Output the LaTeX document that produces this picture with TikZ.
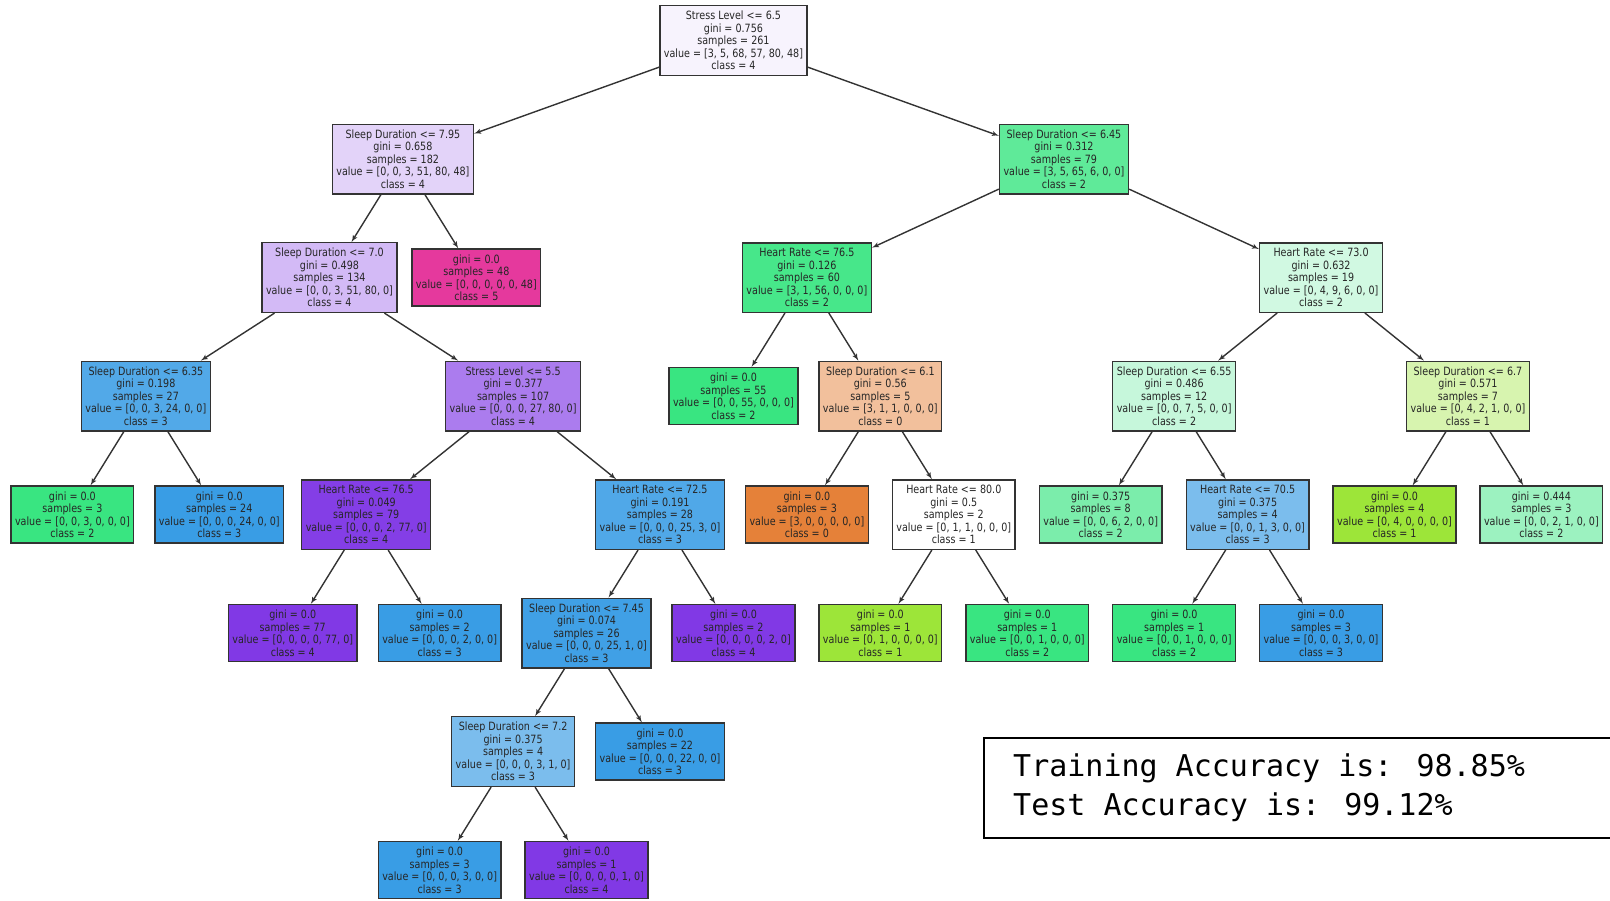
\documentclass[tikz,border=0pt]{standalone}
\usepackage{fontspec}
\usepackage{xcolor}
\usepackage{tikz}
\usetikzlibrary{arrows}
\newfontfamily\treefont{DejaVu Sans}[FakeStretch=0.84]
\newfontfamily\accfont{DejaVu Sans Mono}

% node fills (class colour faded by purity)
\definecolor{cRoot}{HTML}{F7F3FD}
\definecolor{cL}{HTML}{E3D3F9}
\definecolor{cLL}{HTML}{D3BAF6}
\definecolor{cLLL}{HTML}{52A9E8}
\definecolor{cLLR}{HTML}{AB7CEE}
\definecolor{cLLRL}{HTML}{843EE6}
\definecolor{cLLRR}{HTML}{50A8E8}
\definecolor{cLLRRL}{HTML}{40A0E6}
\definecolor{cPaleBlue}{HTML}{7BBDED}
\definecolor{cR}{HTML}{5FEA99}
\definecolor{cRL}{HTML}{47E78A}
\definecolor{cRLR}{HTML}{F2C09C}
\definecolor{cRR}{HTML}{D1F9E2}
\definecolor{cRRL}{HTML}{C6F7DB}
\definecolor{cRRLL}{HTML}{7BEDAB}
\definecolor{cRRR}{HTML}{D7F4AF}
\definecolor{cRRRR}{HTML}{9CF2C0}
\definecolor{cOrange}{HTML}{E58139}
\definecolor{cLime}{HTML}{9DE539}
\definecolor{cGreen}{HTML}{39E581}
\definecolor{cBlue}{HTML}{399DE5}
\definecolor{cPurple}{HTML}{8139E5}
\definecolor{cPink}{HTML}{E5399D}
\definecolor{edge}{HTML}{333333}

\begin{document}
\begin{tikzpicture}[x=73.45pt, y=-118.5pt,
  split/.style = {draw=edge, line width=1.4pt, align=center, text=black!85,
    font=\treefont\fontsize{11.4}{12.5}\selectfont, inner xsep=4pt, inner ysep=5.4pt},
  arr/.style = {-latex', line width=1.4pt, draw=edge}]
  \useasboundingbox (-72.4pt,40.6pt) rectangle (1537.6pt,-860.4pt);

  %level 0
  \node[split, fill=cRoot] (root) at (9,0) {Stress Level <= 6.5\\gini = 0.756\\samples = 261\\value = [3, 5, 68, 57, 80, 48]\\class = 4};

  %level 1
  \node[split, fill=cL] (l) at (4.5,1) {Sleep Duration <= 7.95\\gini = 0.658\\samples = 182\\value = [0, 0, 3, 51, 80, 48]\\class = 4};
  \node[split, fill=cR] (r) at (13.5,1) {Sleep Duration <= 6.45\\gini = 0.312\\samples = 79\\value = [3, 5, 65, 6, 0, 0]\\class = 2};

  %level 2
  \node[split, fill=cLL] (ll) at (3.5,2) {Sleep Duration <= 7.0\\gini = 0.498\\samples = 134\\value = [0, 0, 3, 51, 80, 0]\\class = 4};
  \node[split, fill=cPink] (lr) at (5.5,2) {gini = 0.0\\samples = 48\\value = [0, 0, 0, 0, 0, 48]\\class = 5};
  \node[split, fill=cRL] (rl) at (10,2) {Heart Rate <= 76.5\\gini = 0.126\\samples = 60\\value = [3, 1, 56, 0, 0, 0]\\class = 2};
  \node[split, fill=cRR] (rr) at (17,2) {Heart Rate <= 73.0\\gini = 0.632\\samples = 19\\value = [0, 4, 9, 6, 0, 0]\\class = 2};

  %level 3
  \node[split, fill=cLLL] (lll) at (1,3) {Sleep Duration <= 6.35\\gini = 0.198\\samples = 27\\value = [0, 0, 3, 24, 0, 0]\\class = 3};
  \node[split, fill=cLLR] (llr) at (6,3) {Stress Level <= 5.5\\gini = 0.377\\samples = 107\\value = [0, 0, 0, 27, 80, 0]\\class = 4};
  \node[split, fill=cGreen] (rll) at (9,3) {gini = 0.0\\samples = 55\\value = [0, 0, 55, 0, 0, 0]\\class = 2};
  \node[split, fill=cRLR] (rlr) at (11,3) {Sleep Duration <= 6.1\\gini = 0.56\\samples = 5\\value = [3, 1, 1, 0, 0, 0]\\class = 0};
  \node[split, fill=cRRL] (rrl) at (15,3) {Sleep Duration <= 6.55\\gini = 0.486\\samples = 12\\value = [0, 0, 7, 5, 0, 0]\\class = 2};
  \node[split, fill=cRRR] (rrr) at (19,3) {Sleep Duration <= 6.7\\gini = 0.571\\samples = 7\\value = [0, 4, 2, 1, 0, 0]\\class = 1};

  %level 4
  \node[split, fill=cGreen] (llll) at (0,4) {gini = 0.0\\samples = 3\\value = [0, 0, 3, 0, 0, 0]\\class = 2};
  \node[split, fill=cBlue] (lllr) at (2,4) {gini = 0.0\\samples = 24\\value = [0, 0, 0, 24, 0, 0]\\class = 3};
  \node[split, fill=cLLRL] (llrl) at (4,4) {Heart Rate <= 76.5\\gini = 0.049\\samples = 79\\value = [0, 0, 0, 2, 77, 0]\\class = 4};
  \node[split, fill=cLLRR] (llrr) at (8,4) {Heart Rate <= 72.5\\gini = 0.191\\samples = 28\\value = [0, 0, 0, 25, 3, 0]\\class = 3};
  \node[split, fill=cOrange] (rlrl) at (10,4) {gini = 0.0\\samples = 3\\value = [3, 0, 0, 0, 0, 0]\\class = 0};
  \node[split, fill=white] (rlrr) at (12,4) {Heart Rate <= 80.0\\gini = 0.5\\samples = 2\\value = [0, 1, 1, 0, 0, 0]\\class = 1};
  \node[split, fill=cRRLL] (rrll) at (14,4) {gini = 0.375\\samples = 8\\value = [0, 0, 6, 2, 0, 0]\\class = 2};
  \node[split, fill=cPaleBlue] (rrlr) at (16,4) {Heart Rate <= 70.5\\gini = 0.375\\samples = 4\\value = [0, 0, 1, 3, 0, 0]\\class = 3};
  \node[split, fill=cLime] (rrrl) at (18,4) {gini = 0.0\\samples = 4\\value = [0, 4, 0, 0, 0, 0]\\class = 1};
  \node[split, fill=cRRRR] (rrrr) at (20,4) {gini = 0.444\\samples = 3\\value = [0, 0, 2, 1, 0, 0]\\class = 2};

  %level 5
  \node[split, fill=cPurple] (llrll) at (3,5) {gini = 0.0\\samples = 77\\value = [0, 0, 0, 0, 77, 0]\\class = 4};
  \node[split, fill=cBlue] (llrlr) at (5,5) {gini = 0.0\\samples = 2\\value = [0, 0, 0, 2, 0, 0]\\class = 3};
  \node[split, fill=cLLRRL] (llrrl) at (7,5) {Sleep Duration <= 7.45\\gini = 0.074\\samples = 26\\value = [0, 0, 0, 25, 1, 0]\\class = 3};
  \node[split, fill=cPurple] (llrrr) at (9,5) {gini = 0.0\\samples = 2\\value = [0, 0, 0, 0, 2, 0]\\class = 4};
  \node[split, fill=cLime] (rlrrl) at (11,5) {gini = 0.0\\samples = 1\\value = [0, 1, 0, 0, 0, 0]\\class = 1};
  \node[split, fill=cGreen] (rlrrr) at (13,5) {gini = 0.0\\samples = 1\\value = [0, 0, 1, 0, 0, 0]\\class = 2};
  \node[split, fill=cGreen] (rrlrl) at (15,5) {gini = 0.0\\samples = 1\\value = [0, 0, 1, 0, 0, 0]\\class = 2};
  \node[split, fill=cBlue] (rrlrr) at (17,5) {gini = 0.0\\samples = 3\\value = [0, 0, 0, 3, 0, 0]\\class = 3};

  %level 6
  \node[split, fill=cPaleBlue] (llrrll) at (6,6) {Sleep Duration <= 7.2\\gini = 0.375\\samples = 4\\value = [0, 0, 0, 3, 1, 0]\\class = 3};
  \node[split, fill=cBlue] (llrrlr) at (8,6) {gini = 0.0\\samples = 22\\value = [0, 0, 0, 22, 0, 0]\\class = 3};

  %level 7
  \node[split, fill=cBlue] (llrrlll) at (5,7) {gini = 0.0\\samples = 3\\value = [0, 0, 0, 3, 0, 0]\\class = 3};
  \node[split, fill=cPurple] (llrrllr) at (7,7) {gini = 0.0\\samples = 1\\value = [0, 0, 0, 0, 1, 0]\\class = 4};

  %edges
  \draw[arr] (root) -- (l);
  \draw[arr] (root) -- (r);
  \draw[arr] (l) -- (ll);
  \draw[arr] (l) -- (lr);
  \draw[arr] (r) -- (rl);
  \draw[arr] (r) -- (rr);
  \draw[arr] (ll) -- (lll);
  \draw[arr] (ll) -- (llr);
  \draw[arr] (rl) -- (rll);
  \draw[arr] (rl) -- (rlr);
  \draw[arr] (rr) -- (rrl);
  \draw[arr] (rr) -- (rrr);
  \draw[arr] (lll) -- (llll);
  \draw[arr] (lll) -- (lllr);
  \draw[arr] (llr) -- (llrl);
  \draw[arr] (llr) -- (llrr);
  \draw[arr] (rlr) -- (rlrl);
  \draw[arr] (rlr) -- (rlrr);
  \draw[arr] (rrl) -- (rrll);
  \draw[arr] (rrl) -- (rrlr);
  \draw[arr] (rrr) -- (rrrl);
  \draw[arr] (rrr) -- (rrrr);
  \draw[arr] (llrl) -- (llrll);
  \draw[arr] (llrl) -- (llrlr);
  \draw[arr] (llrr) -- (llrrl);
  \draw[arr] (llrr) -- (llrrr);
  \draw[arr] (rlrr) -- (rlrrl);
  \draw[arr] (rlrr) -- (rlrrr);
  \draw[arr] (rrlr) -- (rrlrl);
  \draw[arr] (rrlr) -- (rrlrr);
  \draw[arr] (llrrl) -- (llrrll);
  \draw[arr] (llrrl) -- (llrrlr);
  \draw[arr] (llrrll) -- (llrrlll);
  \draw[arr] (llrrll) -- (llrrllr);

  %accuracy printout
  \draw[line width=1.8pt] (1560pt,-697.4pt) -- (911.6pt,-697.4pt) -- (911.6pt,-797.4pt) -- (1560pt,-797.4pt);
  \node[anchor=base west, inner sep=0pt, font=\accfont\fontsize{30}{39}\selectfont] (train) at (940.6pt,-735.4pt) {Training Accuracy is: 98.85\%};
  \node[anchor=base west, inner sep=0pt, font=\accfont\fontsize{30}{39}\selectfont] (test) at (940.6pt,-774.4pt) {Test Accuracy is: 99.12\%};
\end{tikzpicture}
\end{document}
